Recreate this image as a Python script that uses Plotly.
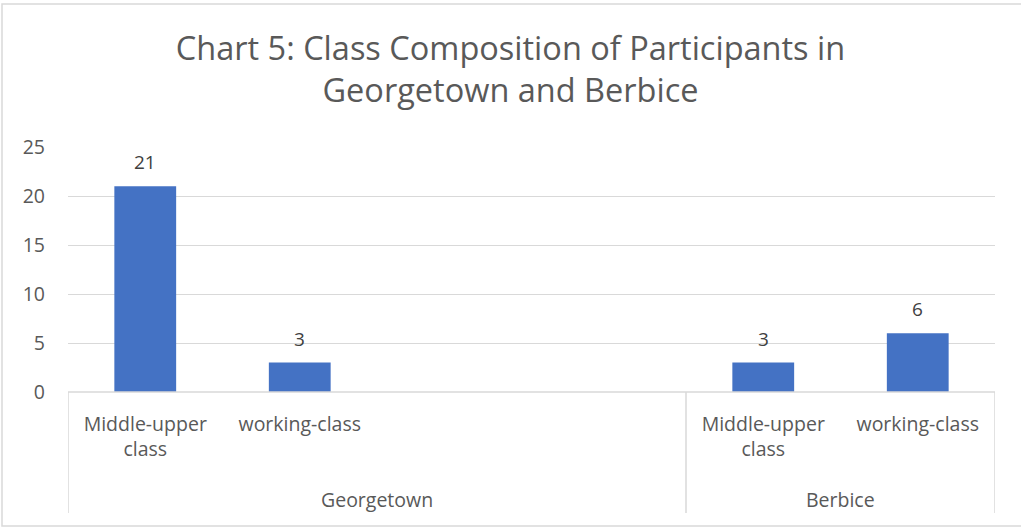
import plotly.graph_objects as go

title = "Chart 5: Class Composition of Participants in<br>Georgetown and Berbice"
regions = ["Georgetown", "Berbice"]
region_slots = [4, 2]  # number of category slots per region (Georgetown has two empty)
georgetown_classes = ["Middle-upper<br>class", "working-class", "", ""]
georgetown_values = [21, 3, None, None]
berbice_classes = ["Middle-upper<br>class", "working-class"]
berbice_values = [3, 6]
y_ticks = [0, 5, 10, 15, 20, 25]

labels = georgetown_classes + berbice_classes
values = georgetown_values + berbice_values
xpos = list(range(len(labels)))

TXT = "#595959"
FONT = "Open Sans"

fig = go.Figure()
fig.add_trace(go.Bar(
    x=xpos, y=values, width=0.4,
    marker=dict(color="#4472C4", line=dict(width=0)),
))
for x, v in zip(xpos, values):
    if v is not None:
        fig.add_annotation(x=x, y=v, text=str(v), showarrow=False, yanchor="middle",
                           yshift=24, font=dict(family=FONT, size=19, color="#404040"))

fig.update_layout(
    width=1021, height=527,
    margin=dict(l=68, r=26, t=147, b=135),
    paper_bgcolor="white", plot_bgcolor="white",
    showlegend=False,
    title=dict(text=title, x=0.5, xanchor="center", y=0.886, yanchor="middle",
               font=dict(family=FONT, size=32.5, color=TXT)),
    xaxis=dict(range=[-0.5, len(labels) - 0.5], tickmode="array", tickvals=xpos,
               ticktext=labels, showgrid=False, zeroline=False, showline=False,
               ticks="", tickfont=dict(family=FONT, size=19.5, color=TXT),
               ticklabelstandoff=18),
    yaxis=dict(range=[0, 25], tickvals=y_ticks, showgrid=True, gridcolor="#D9D9D9",
               gridwidth=1.3, zeroline=False, showline=False, ticks="",
               tickfont=dict(family=FONT, size=19.5, color=TXT), ticklabelstandoff=22),
    font=dict(family=FONT, color=TXT),
)

# Multi-level category axis lines
ln = dict(color="#D9D9D9", width=1.5)
fig.add_shape(type="line", xref="x", yref="paper", x0=-0.5, x1=len(labels) - 0.5,
              y0=0, y1=0, line=ln)
bottom = -(513 - 392) / 245
start = -0.5
bounds = [start]
for n in region_slots:
    start += n
    bounds.append(start)
for b in bounds:
    fig.add_shape(type="line", xref="x", yref="paper", x0=b, x1=b, y0=0, y1=bottom, line=ln)
for i, r in enumerate(regions):
    mid = (bounds[i] + bounds[i + 1]) / 2
    fig.add_annotation(text=r, xref="x", yref="paper", x=mid, y=-(499 - 392) / 245,
                       yanchor="middle", showarrow=False,
                       font=dict(family=FONT, size=19.5, color=TXT))

# outer chart border
fig.add_shape(type="rect", xref="paper", yref="paper",
              x0=-(68 - 2) / 927, x1=(1021 - 68 + 2) / 927,
              y0=-(526 - 392) / 245, y1=(392 - 4) / 245,
              line=dict(color="#D9D9D9", width=1.5))

fig.write_html("out.html", config={"displayModeBar": False},
               post_script="document.body.style.margin='0';document.body.style.overflow='hidden';")
